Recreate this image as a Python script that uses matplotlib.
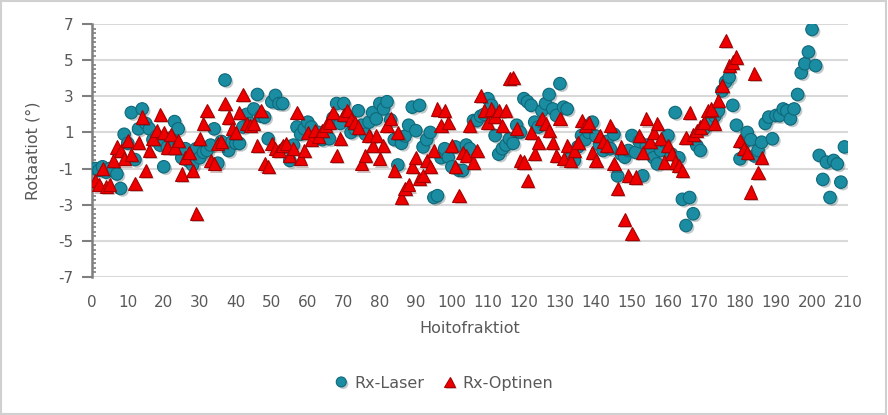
import numpy as np
import matplotlib
matplotlib.use("Agg")
import matplotlib.pyplot as plt
from matplotlib.ticker import MultipleLocator, FixedLocator
import matplotlib.patheffects as pe

plt.rcParams["axes.unicode_minus"] = False

# Rotaatiot per hoitofraktio (x = 1..N)
rx_laser = [
    -1.0, -1.1, -0.9, -1.2, -1.0, -1.1, -1.3, -2.1, 0.9, 0.4,
    2.1, -0.5, 1.2, 2.3, 1.5, 1.2, 0.6, 0.8, 0.3, -0.9,
    0.2, 0.7, 1.6, 1.2, -0.4, 0.1, -0.6, -0.8, 0.1, -0.4,
    -0.1, 0.0, 0.3, 1.2, -0.7, 0.5, 3.9, 0.0, 0.5, 0.4,
    0.4, 1.3, 2.0, 1.5, 2.3, 3.1, 1.9, 1.85, 0.65, 2.7,
    3.05, 2.6, 2.6, 0.2, -0.55, 0.3, 1.3, 0.9, 1.2, 1.57,
    1.3, 0.8, 1.0, 0.6, 0.9, 0.65, 1.8, 2.6, 1.5, 2.6,
    1.9, 1.0, 1.2, 2.2, 1.4, 0.9, 1.57, 2.1, 1.75, 2.6,
    2.3, 2.7, 1.7, 0.6, -0.8, 0.4, 0.8, 1.4, 2.4, 1.1,
    2.5, 0.2, 0.6, 1.0, -2.6, -2.5, -0.4, 0.1, -0.37, -0.9,
    0.2, -1.1, -1.1, 0.3, 0.1, 1.66, 1.66, 1.9, 2.0, 2.87,
    2.5, 0.83, -0.2, 0.1, 0.3, 0.65, 0.4, 1.4, 1.0, 2.87,
    2.7, 2.5, 1.57, 1.3, 2.2, 2.6, 3.1, 2.3, 1.94, 3.7,
    2.4, 2.3, -0.4, -0.55, 0.2, 0.83, 0.6, 1.0, 1.57, 0.8,
    0.3, 0.0, 0.5, 0.1, 0.9, -1.4, -0.2, -0.37, 0.0, 0.83,
    -0.1, 0.5, -1.4, 0.3, -0.1, -0.4, -0.74, 0.0, 0.5, 0.83,
    -0.2, 2.1, -0.4, -2.7, -4.15, -2.6, -3.5, 0.28, 0.0, 1.2,
    1.5, 1.6, 1.9, 2.2, 3.3, 3.8, 4.06, 2.5, 1.4, -0.46,
    0.37, 1.0, 0.6, -0.3, 0.0, 0.46, 1.5, 1.85, 0.65, 1.94,
    1.94, 2.3, 2.2, 1.75, 2.3, 3.1, 4.3, 4.8, 5.45, 6.7,
    4.7, -0.27, -1.6, -0.64, -2.6, -0.55, -0.74, -1.75, 0.2,
]
rx_optinen = [
    -1.66, -1.9, -1.0, -2.0, -1.9, -0.55, 0.19, 0.0, -0.46, 0.56,
    -0.2, -1.84, 0.46, 1.85, -1.1, 0.0, 0.65, 1.1, 2.0, 1.0,
    0.19, 0.9, 0.2, 0.56, -1.3, -0.37, -0.1, -1.1, -3.5, 0.65,
    1.5, 2.2, -0.55, -0.74, 0.37, 0.5, 2.6, 1.85, 1.2, 1.0,
    2.1, 3.1, 1.5, 1.4, 1.5, 0.28, 2.2, -0.74, -0.9, 0.37,
    0.1, 0.0, 0.28, 0.4, -0.27, 0.1, 2.1, -0.46, 0.0, 1.0,
    0.6, 1.1, 0.8, 1.1, 1.4, 1.57, 2.1, -0.27, 0.65, 2.0,
    2.2, 1.7, 1.57, 1.3, -0.74, -0.27, 0.83, 0.3, 0.83, -0.46,
    0.28, 1.4, 1.75, -1.1, 1.0, -2.6, -2.1, -1.9, -0.9, -0.37,
    -1.56, -1.4, -0.55, -0.9, 0.0, 2.3, 1.4, 2.2, 1.57, 0.28,
    -0.9, -2.5, -0.1, -0.27, 1.4, -0.64, 0.0, 3.05, 2.2, 1.57,
    2.3, 1.9, 2.2, 1.4, 2.2, 3.97, 4.06, 1.2, -0.55, -0.64,
    -1.66, 1.0, -0.18, 0.46, 1.75, 1.5, 1.1, 0.46, -0.27, 1.75,
    -0.46, 0.28, -0.55, 0.0, 0.46, 1.66, 1.4, 1.57, -0.1, -0.55,
    0.83, 0.5, 0.3, 1.4, -0.74, -2.1, 0.19, -3.8, -1.4, -4.6,
    -1.47, 0.83, -0.1, 1.75, 0.5, 1.0, 1.5, 0.65, -0.64, 0.28,
    -0.18, -0.64, -0.83, -1.1, 0.74, 2.1, 0.9, 1.1, 1.3, 1.57,
    2.2, 2.3, 1.5, 2.77, 3.6, 6.1, 4.7, 4.9, 5.17, 0.56,
    0.1, -0.1, -2.3, 4.25, -1.2, -0.37,
]
y_ticks = [-7, -5, -3, -1, 1, 3, 5, 7]
x_laser = np.arange(1, len(rx_laser) + 1)
x_optinen = np.arange(1, len(rx_optinen) + 1)

txt = "#595959"
grid = "#d9d9d9"

fig = plt.figure(figsize=(8.88, 4.15), dpi=100)
ax = fig.add_axes([0.1033, 0.3325, 0.8517, 0.6096])

shadow = [pe.SimplePatchShadow(offset=(1.5, -1.5), alpha=0.25), pe.Normal()]
l1, = ax.plot(x_laser, rx_laser, "o", ms=9, color="#1b8da2", mec="#0f6879",
              mew=0.8, zorder=3, label="Rx-Laser")
l1.set_path_effects(shadow)
l2, = ax.plot(x_optinen, rx_optinen, "^", ms=9.5, color="#ee0000", mec="#a80000",
              mew=0.8, zorder=4, label="Rx-Optinen")
l2.set_path_effects(shadow)

ax.set_xlim(0, 210)
ax.set_ylim(-7, 7)
ax.xaxis.set_major_locator(MultipleLocator(10))
ax.yaxis.set_major_locator(FixedLocator(y_ticks))
ax.yaxis.set_minor_locator(MultipleLocator(0.25))
ax.grid(axis="y", color=grid, lw=1.5, zorder=0)
ax.set_axisbelow(True)

for s in ["top", "right", "bottom"]:
    ax.spines[s].set_visible(False)
ax.spines["left"].set_color("#7f7f7f")
ax.spines["left"].set_linewidth(1.8)
ax.tick_params(axis="y", which="major", length=7, width=1.5, color="#7f7f7f",
               labelsize=11, labelcolor=txt, pad=6)
ax.tick_params(axis="y", which="minor", direction="in", length=3, width=1.2,
               color="#7f7f7f")
ax.tick_params(axis="x", length=0, labelsize=11, labelcolor=txt, pad=13)

ax.set_xlabel("Hoitofraktiot", fontsize=11.5, color=txt)
ax.xaxis.set_label_coords(0.5, -0.175)
ax.set_ylabel("Rotaatiot (°)", fontsize=11.5, color=txt)
ax.yaxis.set_label_coords(-0.068, 0.5)

fig.legend(handles=[l1, l2], loc="center", bbox_to_anchor=(0.5, 0.077), ncol=2,
           frameon=False, fontsize=11.5, labelcolor=txt, markerscale=0.8,
           handlelength=0.8, handletextpad=0.4, columnspacing=1.2)

fig.patches.append(plt.Rectangle((0.001, 0.002), 0.997, 0.996, transform=fig.transFigure,
                                 fill=False, ec="#d0d0d0", lw=1.5))

fig.savefig("out.png", dpi=100)
